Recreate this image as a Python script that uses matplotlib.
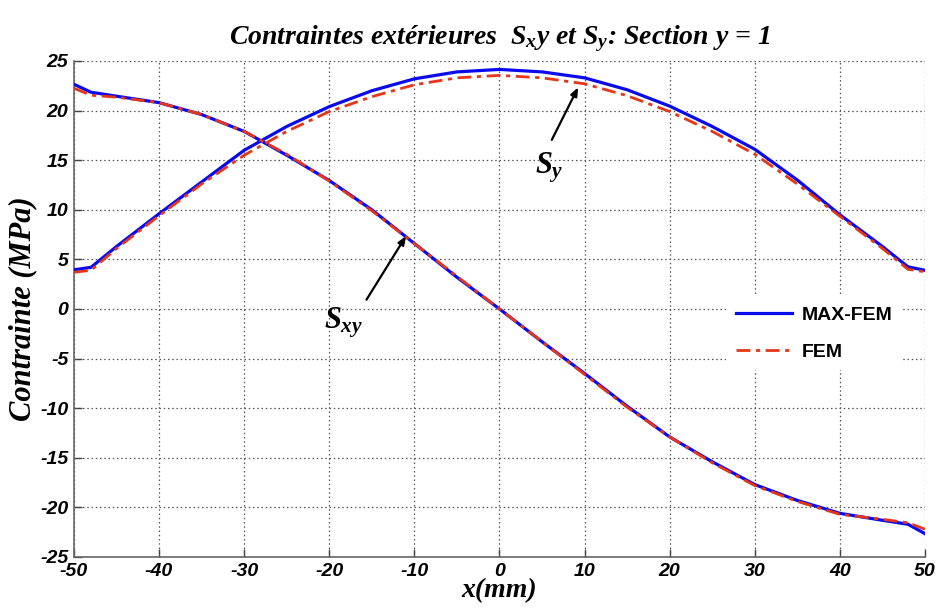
import matplotlib
matplotlib.use('Agg')
import matplotlib.pyplot as plt

# valeurs
x = [-50, -48, -45, -40, -35, -30, -25, -20, -15, -10, -5, 0,
     5, 10, 15, 20, 25, 30, 35, 40, 45, 48, 50]

sy_maxfem = [3.95, 4.2, 6.3, 9.6, 12.8, 16.0, 18.4, 20.4, 22.0, 23.2, 23.9, 24.15,
             23.9, 23.3, 22.1, 20.45, 18.4, 16.1, 13.0, 9.5, 6.3, 4.25, 3.9]
sy_fem = [3.7, 3.9, 6.1, 9.4, 12.6, 15.5, 17.9, 19.9, 21.4, 22.6, 23.3, 23.55,
          23.3, 22.7, 21.5, 19.9, 17.9, 15.6, 12.6, 9.35, 6.1, 4.0, 3.75]

sxy_maxfem = [22.65, 21.85, 21.45, 20.8, 19.6, 17.9, 15.5, 12.95, 10.0, 6.6, 3.2, 0.0,
              -3.3, -6.5, -9.8, -12.9, -15.4, -17.7, -19.3, -20.6, -21.3, -21.7, -22.65]
sxy_fem = [22.25, 21.55, 21.35, 20.8, 19.6, 17.9, 15.6, 12.9, 9.9, 6.6, 3.3, 0.0,
           -3.3, -6.6, -9.9, -12.9, -15.5, -17.8, -19.4, -20.7, -21.2, -21.55, -22.2]

x_ticks = [-50, -40, -30, -20, -10, 0, 10, 20, 30, 40, 50]
y_ticks = [-25, -20, -15, -10, -5, 0, 5, 10, 15, 20, 25]

matplotlib.rcParams['axes.unicode_minus'] = False
matplotlib.rcParams['mathtext.fontset'] = 'custom'
matplotlib.rcParams['mathtext.it'] = 'Liberation Serif:italic:bold'
matplotlib.rcParams['mathtext.rm'] = 'Liberation Serif:italic:bold'
matplotlib.rcParams['mathtext.bf'] = 'Liberation Serif:italic:bold'

serif = dict(family='Liberation Serif', style='italic', weight='bold')

fig = plt.figure(figsize=(9.4, 6.08), dpi=100)
ax = fig.add_axes([0.0787, 0.0839, 0.9053, 0.8158])

blue = '#0a0aee'
red = '#e6361a'
ax.plot(x, sy_maxfem, color=blue, lw=2.3, label='MAX-FEM', zorder=3)
ax.plot(x, sxy_maxfem, color=blue, lw=2.3, zorder=3)
ax.plot(x, sy_fem, color=red, lw=2.0, linestyle='-.', dashes=(5, 2, 1.5, 2), label='FEM', zorder=4)
ax.plot(x, sxy_fem, color=red, lw=2.0, linestyle='-.', dashes=(5, 2, 1.5, 2), zorder=4)

ax.set_xlim(-50, 50)
ax.set_ylim(-25, 25)
ax.set_xticks(x_ticks)
ax.set_yticks(y_ticks)
for lab in ax.get_xticklabels() + ax.get_yticklabels():
    lab.set_family('Liberation Sans')
    lab.set_style('italic')
    lab.set_weight('bold')
    lab.set_fontsize(14)
ax.tick_params(direction='in', length=6, width=1, color='#444444', pad=4)

ax.grid(True, linestyle=(0, (1.2, 2.2)), color='#555555', lw=0.9)
for s in ['top', 'right']:
    ax.spines[s].set_visible(False)
for s in ['left', 'bottom']:
    ax.spines[s].set_color('#666666')
    ax.spines[s].set_linewidth(1.2)

ax.set_title('Contraintes extérieures  $S_x$y et $S_y$: Section y = 1', fontsize=20, pad=12, **serif)
ax.set_xlabel('x(mm)', fontsize=20, labelpad=-1, **serif)
ax.set_ylabel('Contrainte (MPa)', fontsize=22, labelpad=2, **serif)

# flèches et étiquettes
ax.annotate('', xy=(9.4, 22.6), xytext=(6.0, 16.8),
            arrowprops=dict(arrowstyle='-|>,head_length=0.5,head_width=0.2', color='black', lw=1.6))
ax.text(5.9, 14.2, '$S_y$', fontsize=22, ha='center', va='center')
ax.annotate('', xy=(-10.8, 7.6), xytext=(-15.8, 0.7),
            arrowprops=dict(arrowstyle='-|>,head_length=0.5,head_width=0.2', color='black', lw=1.6))
ax.text(-18.3, -1.4, '$S_{xy}$', fontsize=22, ha='center', va='center')

leg = ax.legend(loc='upper left', bbox_to_anchor=(0.755, 0.545), frameon=True, fancybox=False,
                handlelength=2.9, handletextpad=0.5, labelspacing=1.0, borderpad=0.5,
                prop=dict(family='Liberation Sans', weight='bold', size=14))
leg.get_frame().set_facecolor('white')
leg.get_frame().set_edgecolor('none')
leg.get_frame().set_alpha(1)

plt.savefig('out.png', dpi=100)
plt.close()
